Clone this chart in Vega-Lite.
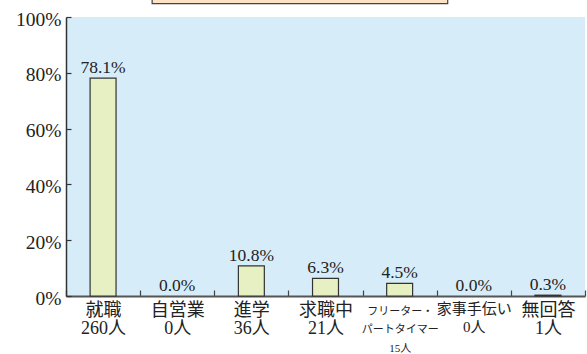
{
  "$schema": "https://vega.github.io/schema/vega-lite/v6.json",
  "width": 519,
  "height": 279,
  "autosize": {"type": "none"},
  "padding": {"left": 66, "top": 17, "right": 2, "bottom": 58},
  "background": "white",
  "config": {
    "view": {"fill": "#d6edf9", "stroke": null},
    "font": "'Liberation Serif', 'Noto Sans CJK JP', serif"
  },
  "data": {
    "values": [
      {"cat": "就職|260人", "rate": 0.781},
      {"cat": "自営業|0人", "rate": 0.0},
      {"cat": "進学|36人", "rate": 0.108},
      {"cat": "求職中|21人", "rate": 0.063},
      {"cat": "フリーター・|パートタイマー|15人", "rate": 0.045},
      {"cat": "家事手伝い|0人", "rate": 0.0},
      {"cat": "無回答|1人", "rate": 0.003}
    ]
  },
  "layer": [
    {
      "mark": {"type": "bar", "width": {"band": 0.35}, "fill": "#e7f0c3", "stroke": "#333333", "strokeWidth": 1.2},
      "encoding": {
        "x": {
          "field": "cat", "type": "nominal", "sort": null,
          "scale": {"paddingInner": 0, "paddingOuter": 0},
          "axis": {
            "title": null, "labelAngle": 0, "tickBand": "extent", "tickSize": -6,
            "domainColor": "#555555", "domainWidth": 2, "tickColor": "#444444", "tickWidth": 1.2,
            "labelExpr": "datum.value ? split(datum.value, '|') : ''",
            "labelFontSize": {"condition": [
              {"test": "datum.value == 'フリーター・|パートタイマー|15人'", "value": 11},
              {"test": "datum.value == '家事手伝い|0人'", "value": 15}
            ], "value": 18},
            "labelPadding": {"condition": {"test": "datum.value == 'フリーター・|パートタイマー|15人'", "value": 15}, "value": 11},
            "labelLineHeight": 18.5, "labelColor": "#222222"
          }
        },
        "y": {
          "field": "rate", "type": "quantitative",
          "scale": {"domain": [0, 1]},
          "axis": {
            "title": null, "values": [0, 0.2, 0.4, 0.6, 0.8, 1], "format": ".0%", "grid": false,
            "tickSize": -5, "domainColor": "#333333", "domainWidth": 1.5, "tickColor": "#333333", "tickWidth": 1.2,
            "labelFontSize": 19.5, "labelPadding": 10, "labelColor": "#222222", "labelOffset": 2
          }
        },
        "strokeOpacity": {"condition": {"test": "datum.rate == 0", "value": 0}, "value": 1}
      }
    },
    {
      "mark": {"type": "text", "baseline": "alphabetic", "dy": -5, "fontSize": 17.5, "color": "#222222", "font": "'Liberation Serif', serif"},
      "encoding": {
        "x": {"field": "cat", "type": "nominal", "sort": null},
        "y": {"field": "rate", "type": "quantitative"},
        "text": {"field": "rate", "format": ".1%"}
      }
    },
    {
      "data": {"values": [{}]},
      "mark": {"type": "rect", "fill": "#fde2c4", "stroke": "#444444", "strokeWidth": 1.2, "xOffset": 12, "x2Offset": 11},
      "encoding": {
        "x": {"datum": "自営業|0人", "type": "nominal", "bandPosition": 0},
        "x2": {"datum": "家事手伝い|0人", "bandPosition": 0},
        "y": {"datum": 1.048, "type": "quantitative"},
        "y2": {"datum": 1.08}
      }
    }
  ]
}
